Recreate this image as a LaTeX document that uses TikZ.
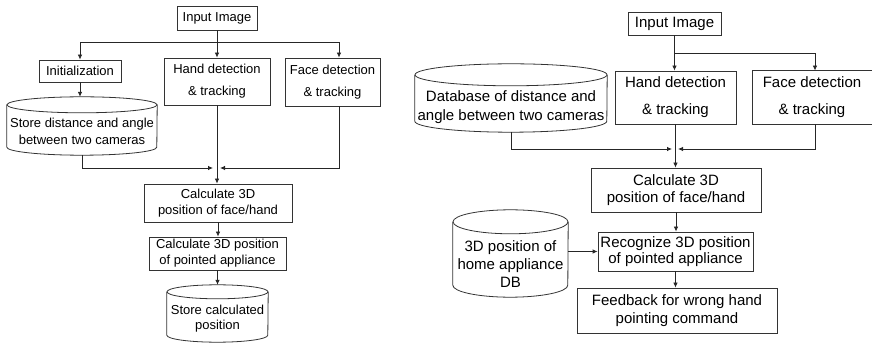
\documentclass[tikz,border=0pt]{standalone}
\usepackage{fontspec}
\setmainfont{Liberation Sans}
\usetikzlibrary{arrows.meta}
\tikzset{
  lw/.style={line width=0.8pt, draw=black!80},
  boxA/.style={lw, rectangle, inner sep=0pt, align=center, font=\fontsize{13}{16}\selectfont},
  boxB/.style={lw, rectangle, inner sep=0pt, align=center, font=\fontsize{15}{17}\selectfont},
  conn/.style={line width=0.8pt, draw=black!85, -{Latex[length=5pt,width=4.5pt]}},
  cylbox/.style={rectangle, inner sep=0pt, draw=none},
  cyltxt/.style={inner sep=0pt, align=center},
}
\newcommand\dbcyl[8][]{%
  \node[cylbox, minimum width=#4pt, minimum height=#5pt] (#2) at (#3) {};
  \draw[lw] ([yshift=-#6pt]#2.north west) -- ([yshift=#6pt]#2.south west)
     arc[start angle=180, end angle=360, x radius=#4pt/2, y radius=#6pt]
     -- ([yshift=-#6pt]#2.north east);
  \draw[lw] ([yshift=-#6pt]#2.north) ellipse [x radius=#4pt/2, y radius=#6pt];
  \node[cyltxt, #1] (#2-t) at ([yshift=-#7pt]#2.center) {#8};
}
\begin{document}
\begin{tikzpicture}[x=1pt,y=-1pt]
\useasboundingbox (0,0) rectangle (872,344);

% ---------- left diagram ----------
\node[boxA, minimum width=80pt, minimum height=24pt] (in1) at (217,18) {Input Image};
\node[boxA, minimum width=82pt, minimum height=22pt] (init) at (80,71) {Initialization};
\node[boxA, minimum width=106pt, minimum height=47pt, font=\fontsize{13}{22}\selectfont] (hand1) at (217,81.5) {Hand detection\\\& tracking};
\node[boxA, minimum width=95pt, minimum height=48pt, font=\fontsize{13}{22}\selectfont] (face1) at (332.5,82) {Face detection\\\& tracking};
\dbcyl[font=\fontsize{13}{17}\selectfont]{db1}{82,126}{150}{58}{8}{5}{Store distance and angle\\between two cameras}
\node[boxA, minimum width=148pt, minimum height=38pt] (calc1) at (218,203) {Calculate 3D\\position of face/hand};
\node[boxA, minimum width=137pt, minimum height=33pt] (app1) at (217.5,253.5) {Calculate 3D position\\of pointed appliance};
\dbcyl[font=\fontsize{13}{15}\selectfont]{store1}{217.5,313.5}{101}{57}{7}{5.5}{Store calculated\\position}

\coordinate (j1) at (217,42);
\draw[conn] (in1.south) -- (hand1.north);
\draw[conn] (j1) -| (init.north);
\draw[conn] (j1) -| ([xshift=6.5pt]face1.north);
\draw[conn] (init.south) -- (init.south |- db1.north);
\coordinate (m1) at (217,168);
\draw[conn] (db1.south) |- ([xshift=-4pt]m1);
\draw[conn] ([xshift=6.5pt]face1.south) |- ([xshift=3pt]m1);
\draw[conn] (hand1.south) -- (hand1.south |- calc1.north);
\draw[conn] (calc1.south) -- (calc1.south |- app1.north);
\draw[conn] (app1.south) -- (app1.south |- store1.north);

% ---------- right diagram ----------
\node[boxB, minimum width=93pt, minimum height=23pt] (in2) at (674.5,23.5) {Input Image};
\node[boxB, minimum width=121pt, minimum height=53pt, font=\fontsize{15}{27}\selectfont] (hand2) at (675.5,97.5) {Hand detection\\\& tracking};
\node[boxB, draw=none, minimum width=118pt, minimum height=53pt, font=\fontsize{15}{27}\selectfont] (face2) at (812,97.5) {Face detection\\\& tracking};
\draw[lw] ([xshift=12pt]face2.north east) -- (face2.north west) -- (face2.south west) -- ([xshift=12pt]face2.south east);
\dbcyl[font=\fontsize{15}{19}\selectfont]{db2}{511,98}{192}{68}{11}{9}{Database of distance and\\angle between two cameras}
\node[boxB, minimum width=170pt, minimum height=44pt] (calc2) at (676,190) {Calculate 3D\\position of face/hand};
\node[boxB, minimum width=155pt, minimum height=39pt, font=\fontsize{15}{16.5}\selectfont] (recog2) at (675.5,251.5) {Recognize 3D position\\of pointed appliance};
\node[boxB, minimum width=200pt, minimum height=45pt, font=\fontsize{15}{18}\selectfont] (fb2) at (677,310.5) {Feedback for wrong hand\\pointing command};
\dbcyl[font=\fontsize{15}{18}\selectfont]{pos3d}{510.5,253.5}{115}{87}{12}{11}{3D position of\\home appliance\\DB}

\coordinate (j2) at (674.5,53);
\draw[conn] (in2.south) -- (in2.south |- hand2.north);
\draw[conn] (j2) -| ([xshift=3pt]face2.north);
\coordinate (m2) at (675,149);
\draw[conn] (db2.south) |- ([xshift=-3pt]m2);
\draw[conn] ([xshift=3pt]face2.south) |- ([xshift=3pt]m2);
\draw[conn] (hand2.south) -- (hand2.south |- calc2.north);
\draw[conn] (calc2.south) -- (calc2.south |- recog2.north);
\draw[conn] (recog2.south) -- (recog2.south |- fb2.north);
\draw[conn] (pos3d.east |- recog2.west) -- (recog2.west);
\end{tikzpicture}
\end{document}
